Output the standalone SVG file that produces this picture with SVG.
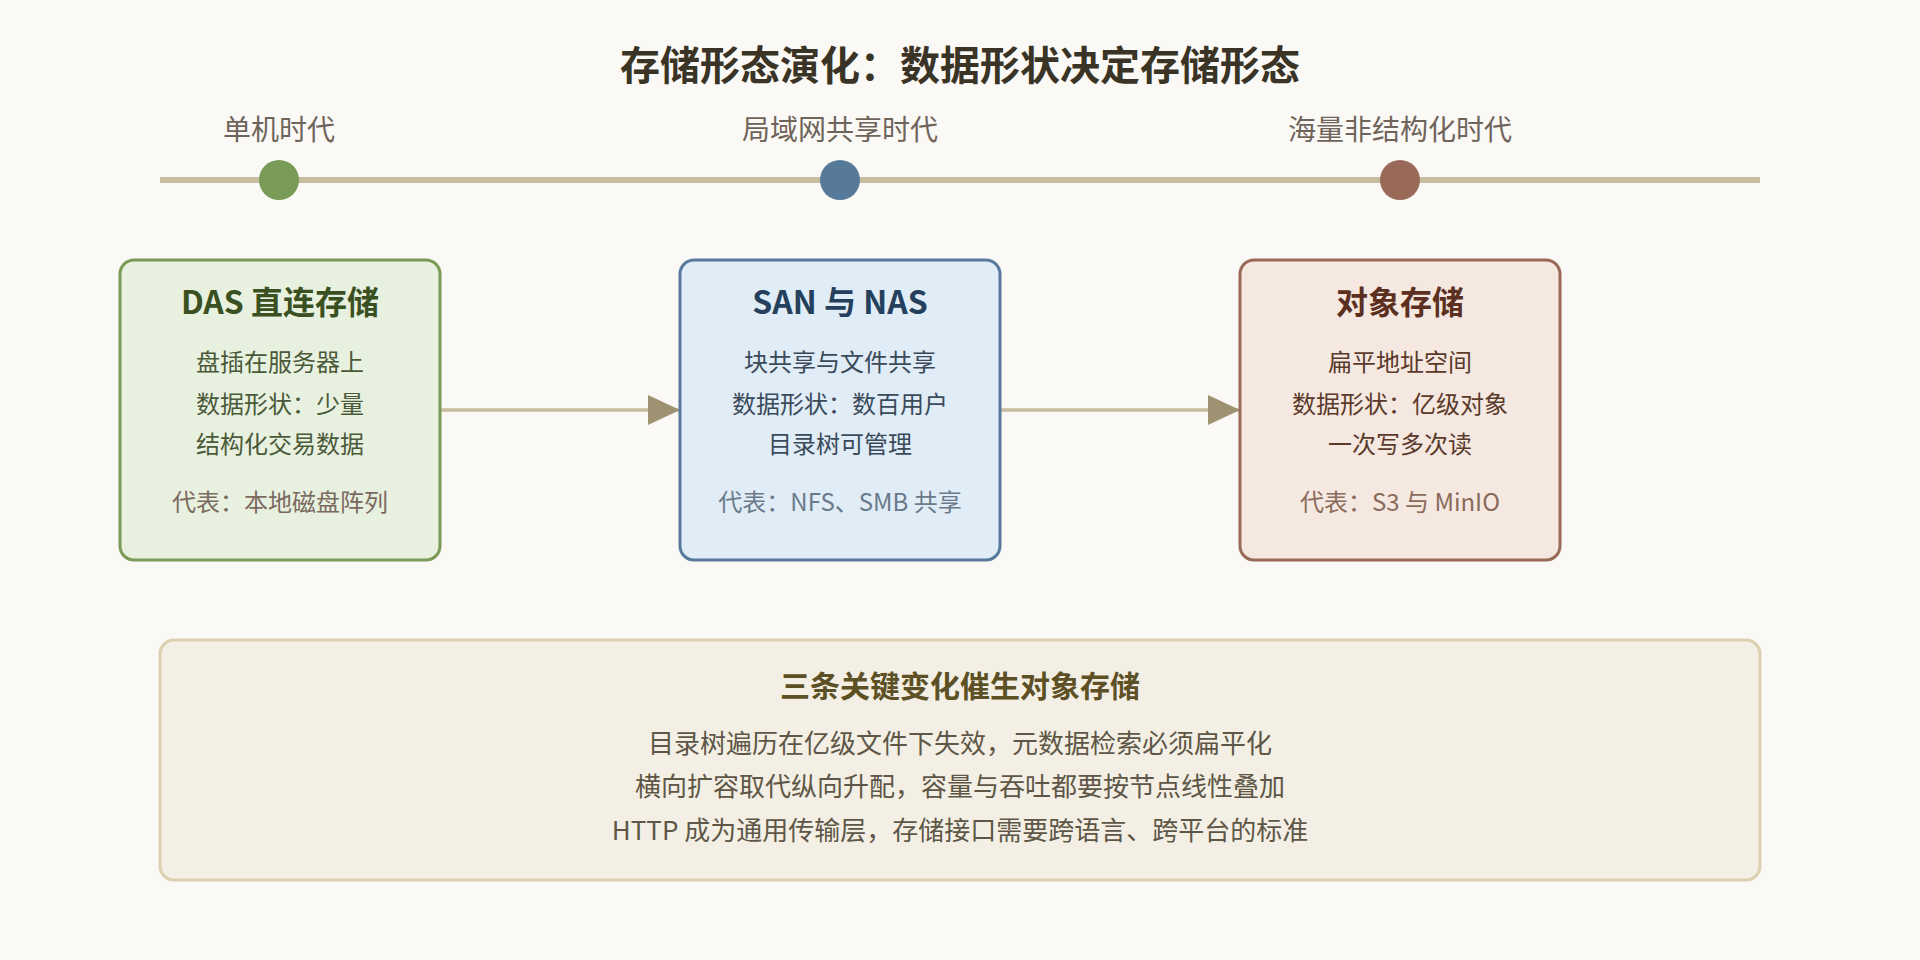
<svg xmlns="http://www.w3.org/2000/svg" width="1920" height="960" viewBox="0 0 1920 960">
<style>
text{font-family:"Noto Sans CJK SC","Noto Sans",sans-serif;text-anchor:middle}
.title{font-size:40px;font-weight:700;fill:#3a3426}
.era{font-size:28px;fill:#6e645a}
.bt{font-size:32px;font-weight:700}
.bb{font-size:24px}
.rep{font-size:24px}
.conn{stroke:#c8bca0;stroke-width:3.5;fill:none}
</style>
<defs>
<marker id="ah" viewBox="0 0 32 30" refX="32" refY="15" markerWidth="32" markerHeight="30" markerUnits="userSpaceOnUse" orient="auto">
<path d="M0,0 L32,15 L0,30 Z" fill="#9e9272"/>
</marker>
</defs>
<rect width="1920" height="960" fill="#fbf9f5"/>
<text class="title" x="960" y="80">存储形态演化：数据形状决定存储形态</text>
<g id="timeline">
<line x1="160" y1="180" x2="1760" y2="180" stroke="#c8bc9e" stroke-width="6"/>
<circle cx="279" cy="180" r="20" fill="#7a9a58"/>
<circle cx="840" cy="180" r="20" fill="#587a9a"/>
<circle cx="1400" cy="180" r="20" fill="#9a6a58"/>
<text class="era" x="279" y="140">单机时代</text>
<text class="era" x="840" y="140">局域网共享时代</text>
<text class="era" x="1400" y="140">海量非结构化时代</text>
</g>
<g id="connectors">
<line class="conn" x1="441" y1="410" x2="680" y2="410" marker-end="url(#ah)"/>
<line class="conn" x1="1001" y1="410" x2="1240" y2="410" marker-end="url(#ah)"/>
</g>
<g id="das">
<rect x="120" y="260" width="320" height="300" rx="14" fill="#e8f0e0" stroke="#7a9a58" stroke-width="3"/>
<text class="bt" x="280" y="314" fill="#3a5020">DAS 直连存储</text>
<text class="bb" x="280" y="371" fill="#4a5a38">盘插在服务器上</text>
<text class="bb" x="280" y="413" fill="#4a5a38">数据形状：少量</text>
<text class="bb" x="280" y="453" fill="#4a5a38">结构化交易数据</text>
<text class="rep" x="280" y="511" fill="#7a6a5e">代表：本地磁盘阵列</text>
</g>
<g id="san-nas">
<rect x="680" y="260" width="320" height="300" rx="14" fill="#e0ecf6" stroke="#587a9a" stroke-width="3"/>
<text class="bt" x="840" y="314" fill="#24405c">SAN 与 NAS</text>
<text class="bb" x="840" y="371" fill="#3a4a5a">块共享与文件共享</text>
<text class="bb" x="840" y="413" fill="#3a4a5a">数据形状：数百用户</text>
<text class="bb" x="840" y="453" fill="#3a4a5a">目录树可管理</text>
<text class="rep" x="840" y="511" fill="#6a7a8a">代表：NFS、SMB 共享</text>
</g>
<g id="object">
<rect x="1240" y="260" width="320" height="300" rx="14" fill="#f5e8e0" stroke="#9a6a58" stroke-width="3"/>
<text class="bt" x="1400" y="314" fill="#5c3020">对象存储</text>
<text class="bb" x="1400" y="371" fill="#5a3a2a">扁平地址空间</text>
<text class="bb" x="1400" y="413" fill="#5a3a2a">数据形状：亿级对象</text>
<text class="bb" x="1400" y="453" fill="#5a3a2a">一次写多次读</text>
<text class="rep" x="1400" y="511" fill="#8a6a5a">代表：S3 与 MinIO</text>
</g>
<g id="summary">
<rect x="160" y="640" width="1600" height="240" rx="14" fill="#f3efe4" stroke="#ddd0b0" stroke-width="3"/>
<text x="960" y="697" style="font-size:30px;font-weight:700" fill="#5c5024">三条关键变化催生对象存储</text>
<text x="960" y="753" style="font-size:26px" fill="#5e5646">目录树遍历在亿级文件下失效，元数据检索必须扁平化</text>
<text x="960" y="796" style="font-size:26px" fill="#5e5646">横向扩容取代纵向升配，容量与吞吐都要按节点线性叠加</text>
<text x="960" y="840" style="font-size:26px" fill="#5e5646">HTTP 成为通用传输层，存储接口需要跨语言、跨平台的标准</text>
</g>
</svg>
